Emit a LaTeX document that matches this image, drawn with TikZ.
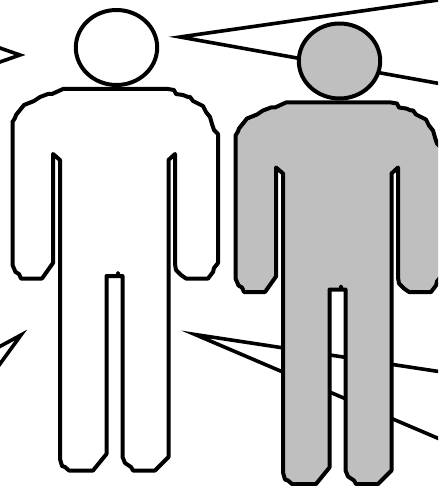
\documentclass[tikz,border=0pt]{standalone}
\tikzset{
  outline/.style={draw=black,line width=4pt,line join=round,line cap=round},
  ray/.style={draw=black,line width=3.6pt,line join=miter,miter limit=30},
}
\newcommand{\bodypath}{
  (63,89) -- (168,89) -- (174,90) -- (176,94) -- (183,95) -- (188,97) -- (190,97) -- (193,101) -- (203,106) -- (206,112) -- (210,117) -- (212,124) -- (214,130) -- (218,134)
  -- (218,263) -- (214,268) -- (213,272) -- (208,278.5) -- (186,278.5) -- (181,275) -- (176,270) -- (175,264)
  -- (175,154) -- (168.5,160) -- (168.5,457) -- (155,470.5) -- (133,470.5) -- (131,467) -- (125,463) -- (122.5,457)
  -- (122.5,276) -- (118.5,276) -- (118,273) -- (118,276) -- (106.5,276)
  -- (106.5,454) -- (93,470.5) -- (69,470.5) -- (65,467) -- (62,466) -- (60,459)
  -- (60,160) -- (53,154) -- (53,263) -- (42,278.5) -- (21,278.5) -- (19,274) -- (15.5,272) -- (12.5,265)
  -- (12.5,122) -- (15,118) -- (16,115) -- (24,105) -- (34,101) -- (40,97) -- (48,94) -- (52,94) -- cycle
}
\begin{document}
\begin{tikzpicture}[x=1pt,y=-1pt]
\useasboundingbox (0,0) rectangle (438,486);
\clip (0,0) rectangle (438,486);
% rays
\draw[ray] (442,-0.5) -- (180,37) -- (442,84);
\draw[ray] (442,372) -- (195,334.5) -- (442,440);
\draw[ray] (-3,47) -- (20,55) -- (-3,63);
\draw[ray] (-3,348) -- (21,335) -- (-3,368);
% white figure
\draw[outline,fill=white] (116.5,47.5) ellipse [x radius=40.7,y radius=37.5];
\draw[outline,fill=white] \bodypath;
% grey figure
\begin{scope}[shift={(223,13.5)}]
\draw[outline,fill=black!25] (116.5,47.5) ellipse [x radius=40.7,y radius=37.5];
\draw[outline,fill=black!25] \bodypath;
\end{scope}
\end{tikzpicture}
\end{document}
